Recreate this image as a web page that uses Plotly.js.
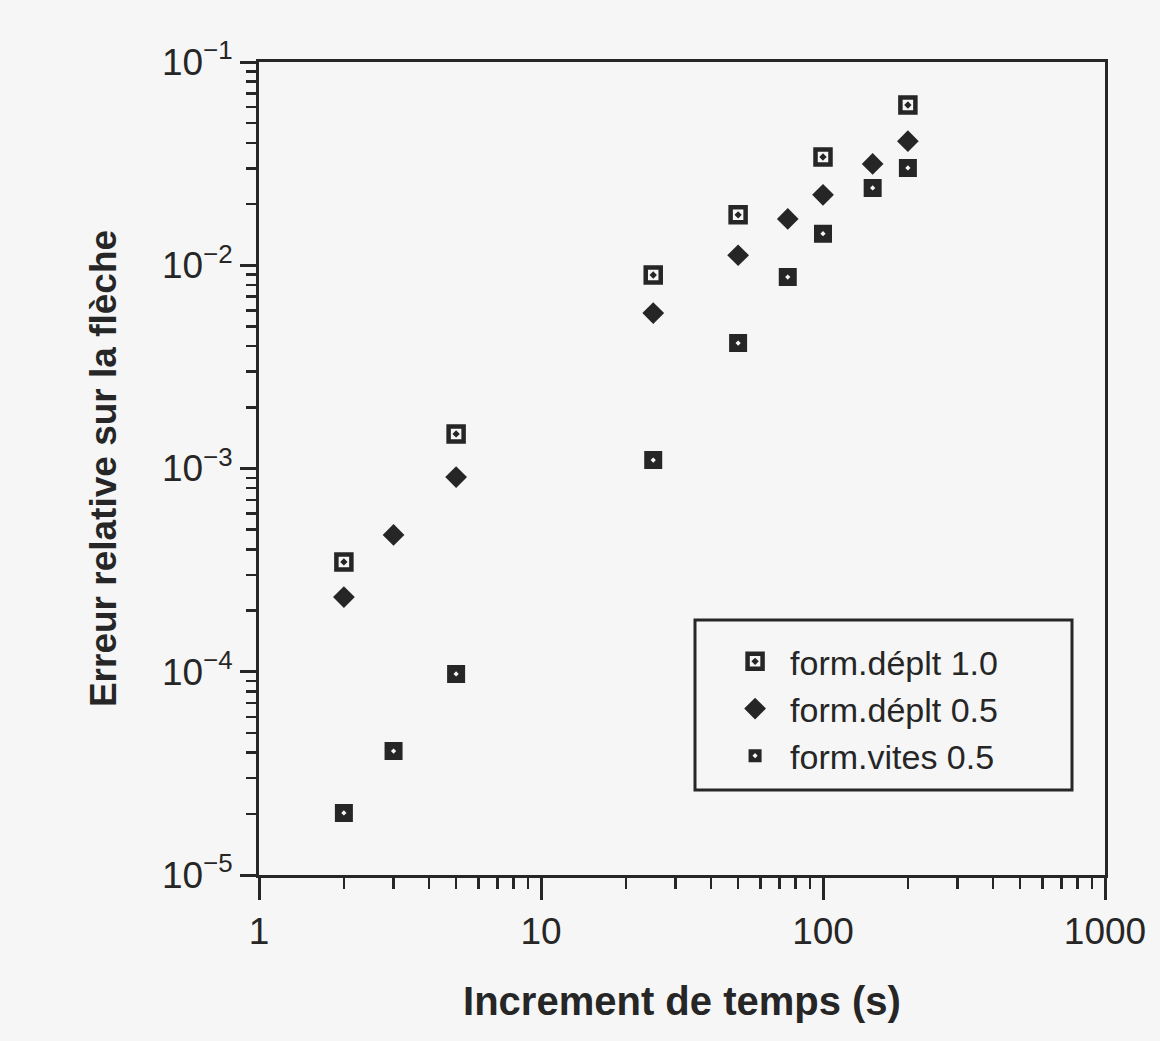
<!DOCTYPE html>
<html>
<head>
<meta charset="utf-8">
<script src="https://cdn.plot.ly/plotly-3.0.1.min.js"></script>
<style>
  html, body { margin: 0; padding: 0; background: #f6f6f6; }
  #chart { width: 1160px; height: 1041px; }
</style>
</head>
<body>
<div id="chart"></div>
<script>
// Time increments (s)
const increments = [2, 3, 5, 25, 50, 75, 100, 150, 200];

// Series: relative error on deflection
const deplt10_x = [2, 5, 25, 50, 100, 200];
const deplt10_y = [3.47e-4, 1.48e-3, 8.95e-3, 1.77e-2, 3.41e-2, 6.14e-2];

const deplt05_x = [2, 3, 5, 25, 50, 75, 100, 150, 200];
const deplt05_y = [2.33e-4, 4.71e-4, 9.08e-4, 5.82e-3, 1.12e-2, 1.69e-2, 2.22e-2, 3.15e-2, 4.08e-2];

const vites05_x = [2, 3, 5, 25, 50, 75, 100, 150, 200];
const vites05_y = [2.02e-5, 4.07e-5, 9.75e-5, 1.10e-3, 4.14e-3, 8.75e-3, 1.43e-2, 2.40e-2, 3.01e-2];

const seriesNames = ['form.déplt 1.0', 'form.déplt 0.5', 'form.vites 0.5'];

// Axis ticks
const xTickVals = [1, 10, 100, 1000];
const xTickText = ['1', '10', '100', '1000'];
const yTickVals = [1e-5, 1e-4, 1e-3, 1e-2, 1e-1];
const yTickText = ['10<sup>−5</sup>', '10<sup>−4</sup>', '10<sup>−3</sup>', '10<sup>−2</sup>', '10<sup>−1</sup>'];

function minorVals(lo, hi) {
  const out = [];
  for (let e = lo; e < hi; e++) {
    for (let m = 2; m <= 9; m++) out.push(m * Math.pow(10, e));
  }
  return out;
}

const ink = '#262626';
const bg = '#f6f6f6';
const fontFam = '"Liberation Sans", Arial, Helvetica, sans-serif';

const traces = [
  {
    x: deplt10_x, y: deplt10_y, name: seriesNames[0], mode: 'markers', type: 'scatter',
    marker: { symbol: 'square-open-dot', size: 15, color: ink, line: { width: 4.5, color: ink } }
  },
  {
    x: deplt05_x, y: deplt05_y, name: seriesNames[1], mode: 'markers', type: 'scatter',
    marker: { symbol: 'diamond', size: 14, color: ink, line: { width: 2.5, color: ink } }
  },
  {
    x: vites05_x, y: vites05_y, name: seriesNames[2], mode: 'markers', type: 'scatter',
    marker: { symbol: 'square-dot', size: 21, color: ink, line: { width: 3, color: bg } }
  }
];

const layout = {
  width: 1160, height: 1041,
  paper_bgcolor: bg, plot_bgcolor: bg,
  margin: { l: 259, r: 55, t: 62, b: 166 },
  font: { family: fontFam, color: ink, size: 34 },
  showlegend: true,
  legend: {
    x: 0.545, y: 0.298, xanchor: 'left', yanchor: 'top',
    bgcolor: 'rgba(0,0,0,0)', borderwidth: 0,
    font: { family: fontFam, size: 34, color: ink },
    itemwidth: 60, tracegroupgap: 0
  },
  shapes: [
    { type: 'rect', xref: 'paper', yref: 'paper',
      x0: (695 - 259) / 846, x1: (1072 - 259) / 846,
      y0: (875 - 790) / 813, y1: (875 - 620) / 813,
      line: { color: ink, width: 3 }, fillcolor: 'rgba(0,0,0,0)' }
  ],
  xaxis: {
    type: 'log', range: [0, 3],
    showline: true, linecolor: ink, linewidth: 3, mirror: true,
    showgrid: false, zeroline: false,
    tickmode: 'array', tickvals: xTickVals, ticktext: xTickText,
    ticks: 'outside', ticklen: 22, tickwidth: 3, tickcolor: ink,
    tickfont: { family: fontFam, size: 37, color: ink },
    minor: { tickmode: 'array', tickvals: minorVals(0, 3), ticks: 'outside', ticklen: 11, tickwidth: 2.5, tickcolor: ink, showgrid: false },
    title: { text: '<b>Increment de temps (s)</b>', font: { family: fontFam, size: 40, color: ink }, standoff: 36 }
  },
  yaxis: {
    type: 'log', range: [-5, -1],
    showline: true, linecolor: ink, linewidth: 3, mirror: true,
    showgrid: false, zeroline: false,
    tickmode: 'array', tickvals: yTickVals, ticktext: yTickText,
    ticks: 'outside', ticklen: 16, tickwidth: 3, tickcolor: ink,
    tickfont: { family: fontFam, size: 37, color: ink },
    minor: { tickmode: 'array', tickvals: minorVals(-5, -1), ticks: 'outside', ticklen: 10, tickwidth: 2.5, tickcolor: ink, showgrid: false },
    title: { text: '<b>Erreur relative sur la flèche</b>', font: { family: fontFam, size: 37, color: ink }, standoff: 34 }
  }
};

Plotly.newPlot('chart', traces, layout, { displayModeBar: false, staticPlot: true });
</script>
</body>
</html>
